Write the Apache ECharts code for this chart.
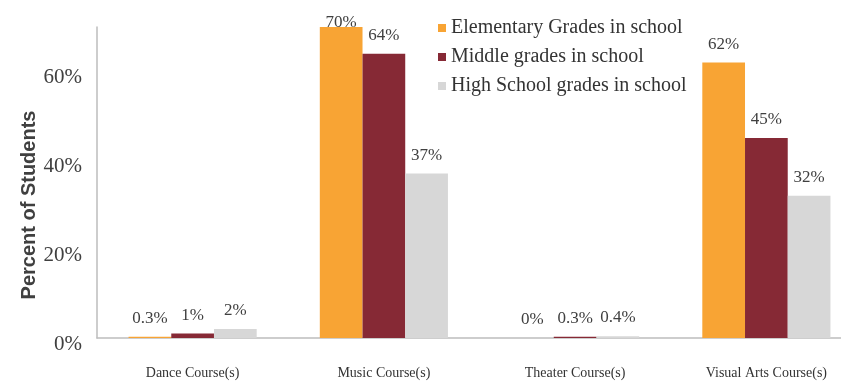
<!DOCTYPE html>
<html>
<head>
<meta charset="utf-8">
<script src="https://cdn.jsdelivr.net/npm/echarts@6/dist/echarts.min.js"></script>
<style>html,body{margin:0;padding:0;background:#fff}#c{width:841px;height:386px}</style>
</head>
<body>
<div id="c"></div>
<script>
const categories = ['Dance Course(s)', 'Music Course(s)', 'Theater Course(s)', 'Visual Arts Course(s)'];
const seriesNames = ['Elementary Grades in school', 'Middle grades in school', 'High School grades in school'];
const elementary = [0.3, 70, 0, 62];
const middle = [1, 64, 0.3, 45];
const high = [2, 37, 0.4, 32];
const yTicks = [0, 20, 40, 60];
const yAxisTitle = 'Percent of Students';

const colors = ['#F8A434', '#862935', '#D7D7D7'];
const serif = '"Liberation Serif", "DejaVu Serif", serif';
const Y_MAX = 70;

const chart = echarts.init(document.getElementById('c'));
// a label at the very top of the plot is pulled down onto the bar, as in the original
const toData = arr => arr.map(v => v >= Y_MAX ? { value: v, label: { distance: -4 } } : v);
const mk = (name, data, color) => ({
  name, type: 'bar', data: toData(data),
  barGap: '0%', barCategoryGap: '33%',
  itemStyle: { color },
  label: {
    show: true, position: 'top', distance: 10,
    fontFamily: serif, fontSize: 17, color: '#404040',
    formatter: p => p.value + '%'
  }
});
chart.setOption({
  animation: false,
  grid: { left: 97, width: 765, top: 27, bottom: 48, containLabel: false, outerBoundsMode: 'none' },
  legend: {
    orient: 'vertical', left: 433, top: 13, itemGap: 9,
    itemWidth: 8, itemHeight: 8, icon: 'rect',
    textStyle: { fontFamily: serif, fontSize: 20, color: '#333' },
    data: seriesNames
  },
  graphic: [{
    type: 'text', x: 29, y: 205, rotation: Math.PI / 2,
    style: {
      text: yAxisTitle, textAlign: 'center', textVerticalAlign: 'middle',
      font: 'bold 20px "Liberation Sans", Arial, sans-serif', fill: '#404040'
    }
  }],
  xAxis: {
    type: 'category', data: categories,
    axisLine: { lineStyle: { color: '#bdbdbd', width: 1.5 } },
    axisTick: { show: false },
    axisLabel: { margin: 28, fontFamily: serif, fontSize: 14, color: '#333' }
  },
  yAxis: {
    type: 'value', min: 0, max: Y_MAX, interval: 20,
    axisLine: { show: true, lineStyle: { color: '#bdbdbd', width: 1.5 } },
    axisTick: { show: false },
    splitLine: { show: false },
    axisLabel: {
      margin: 15, fontFamily: serif, fontSize: 21, color: '#404040',
      verticalAlign: 'top', lineHeight: 12,
      showMaxLabel: false,
      formatter: v => yTicks.includes(v) ? v + '%' : ''
    }
  },
  series: [
    mk(seriesNames[0], elementary, colors[0]),
    mk(seriesNames[1], middle, colors[1]),
    mk(seriesNames[2], high, colors[2])
  ]
});
</script>
</body>
</html>
